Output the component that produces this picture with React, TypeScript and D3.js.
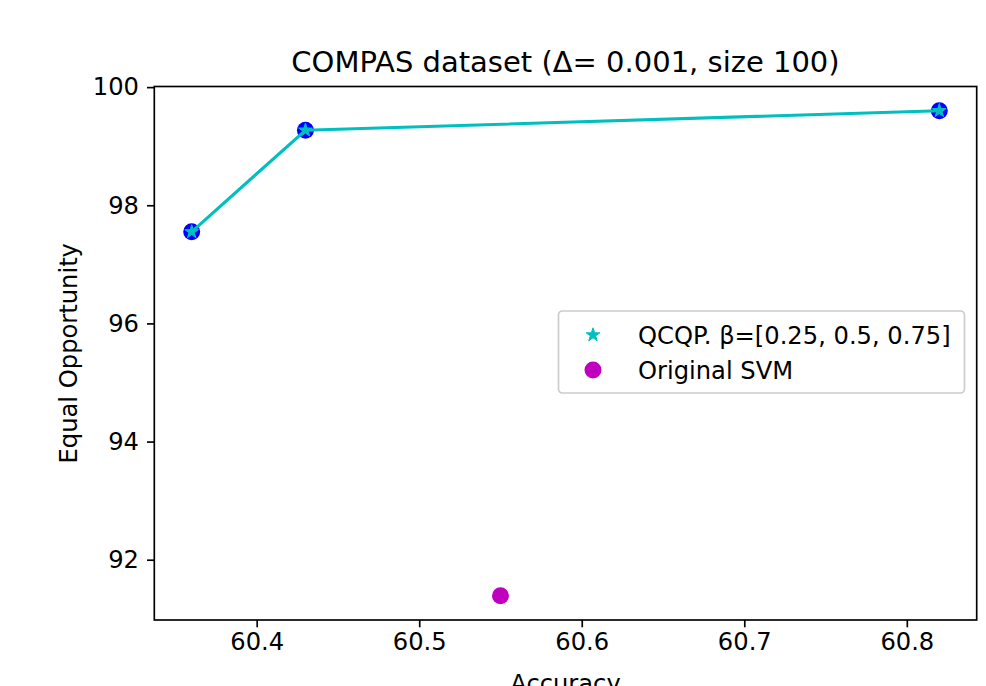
import { useEffect, useRef } from 'react';
import * as d3 from 'd3';

// QCQP points for beta = 0.25, 0.5, 0.75
const qcqpAccuracy = [60.36, 60.43, 60.82];
const qcqpEqualOpp = [97.55, 99.27, 99.60];

// original SVM
const svmAccuracy = [60.55];
const svmEqualOpp = [91.39];

const xTicks = [60.4, 60.5, 60.6, 60.7, 60.8];
const yTicks = [92, 94, 96, 98, 100];

const legendLabels = ['QCQP. β=[0.25, 0.5, 0.75]', 'Original SVM'];

export default function App() {
  const chartRef = useRef<SVGSVGElement>(null);

  useEffect(() => {
    const W = 986, H = 686;
    const margin = { top: 86.5, right: 9.3, bottom: 66, left: 154.3 };
    const font = '"DejaVu Sans", sans-serif';
    const fs = 24.2;

    const svg = d3.select(chartRef.current);
    svg.selectAll('*').remove();
    svg.attr('width', W).attr('height', H).attr('viewBox', `0 0 ${W} ${H}`);

    const allX = [...qcqpAccuracy, ...svmAccuracy];
    const allY = [...qcqpEqualOpp, ...svmEqualOpp];
    const [x0, x1] = d3.extent(allX) as [number, number];
    const [y0, y1] = d3.extent(allY) as [number, number];
    const mx = (x1 - x0) * 0.05, my = (y1 - y0) * 0.05;

    const x = d3.scaleLinear()
      .domain([x0 - mx, x1 + mx])
      .range([margin.left, W - margin.right]);
    const y = d3.scaleLinear()
      .domain([y0 - my, y1 + my])
      .range([H - margin.bottom, margin.top]);

    svg.append('rect').attr('width', W).attr('height', H).attr('fill', '#fff');

    // Eje X
    const xAxis = svg.append('g')
      .attr('transform', `translate(0,${H - margin.bottom})`)
      .call(d3.axisBottom(x).tickValues(xTicks).tickFormat(d3.format('.1f')).tickSize(7.3).tickPadding(6).tickSizeOuter(0));
    xAxis.select('.domain').remove();
    xAxis.selectAll('line').attr('stroke', '#000').attr('stroke-width', 1.67);
    xAxis.selectAll('text').attr('font-family', font).attr('font-size', fs).attr('fill', '#000');

    // Eje Y
    const yAxis = svg.append('g')
      .attr('transform', `translate(${margin.left},0)`)
      .call(d3.axisLeft(y).tickValues(yTicks).tickFormat(d3.format('d')).tickSize(7.3).tickPadding(8).tickSizeOuter(0));
    yAxis.select('.domain').remove();
    yAxis.selectAll('line').attr('stroke', '#000').attr('stroke-width', 1.67);
    yAxis.selectAll('text').attr('font-family', font).attr('font-size', fs).attr('fill', '#000');

    // marco
    svg.append('rect')
      .attr('x', margin.left).attr('y', margin.top)
      .attr('width', W - margin.left - margin.right)
      .attr('height', H - margin.top - margin.bottom)
      .attr('fill', 'none').attr('stroke', '#000').attr('stroke-width', 1.67);

    const pts = qcqpAccuracy.map((a, i) => ({ a, e: qcqpEqualOpp[i] }));
    const star = d3.symbol().type(d3.symbolStar).size(58);

    // circulos azules debajo
    svg.selectAll('.blue').data(pts).enter().append('circle')
      .attr('cx', d => x(d.a)).attr('cy', d => y(d.e)).attr('r', 8.5)
      .attr('fill', '#0000ff');

    svg.append('path')
      .datum(pts)
      .attr('fill', 'none')
      .attr('stroke', '#00bfbf')
      .attr('stroke-width', 3.1)
      .attr('d', d3.line<{ a: number; e: number }>().x(d => x(d.a)).y(d => y(d.e)));

    svg.selectAll('.star').data(pts).enter().append('path')
      .attr('transform', d => `translate(${x(d.a)},${y(d.e)})`)
      .attr('d', star()!)
      .attr('fill', '#00bfbf').attr('stroke', '#00bfbf').attr('stroke-width', 1);

    svg.selectAll('.svm').data(svmAccuracy).enter().append('circle')
      .attr('cx', d => x(d)).attr('cy', (d, i) => y(svmEqualOpp[i])).attr('r', 8.5)
      .attr('fill', '#bf00bf');

    // Titulo y etiquetas
    svg.append('text')
      .attr('x', (margin.left + W - margin.right) / 2).attr('y', 72)
      .attr('text-anchor', 'middle').attr('font-family', font).attr('font-size', 29)
      .text('COMPAS dataset (Δ= 0.001, size 100)');

    svg.append('text')
      .attr('x', (margin.left + W - margin.right) / 2).attr('y', 692)
      .attr('text-anchor', 'middle').attr('font-family', font).attr('font-size', fs)
      .text('Accuracy');

    svg.append('text')
      .attr('transform', `translate(76.5,${(margin.top + H - margin.bottom) / 2}) rotate(-90)`)
      .attr('text-anchor', 'middle').attr('font-family', font).attr('font-size', fs)
      .text('Equal Opportunity');

    // Leyenda
    const lg = svg.append('g');
    lg.append('rect')
      .attr('x', 558.5).attr('y', 311).attr('width', 406).attr('height', 82)
      .attr('rx', 4).attr('fill', '#fff').attr('fill-opacity', 0.8)
      .attr('stroke', '#cccccc').attr('stroke-width', 1.67);
    lg.append('path')
      .attr('transform', 'translate(593,335)')
      .attr('d', star()!)
      .attr('fill', '#00bfbf').attr('stroke', '#00bfbf').attr('stroke-width', 1);
    lg.append('circle').attr('cx', 593).attr('cy', 370).attr('r', 8.5).attr('fill', '#bf00bf');
    legendLabels.forEach((t, i) => {
      lg.append('text')
        .attr('x', 638).attr('y', 335 + i * 35 + 8.5)
        .attr('font-family', font).attr('font-size', fs)
        .text(t);
    });
  }, []);

  return (
    <div>
      <svg ref={chartRef} style={{ position: 'absolute', left: 0, top: 0, display: 'block' }}></svg>
    </div>
  );
}
